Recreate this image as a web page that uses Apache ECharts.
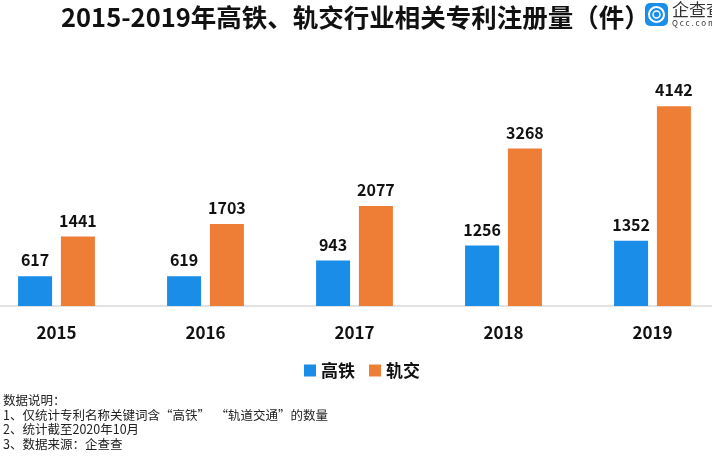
<!DOCTYPE html>
<html><head><meta charset="utf-8">
<script src="https://cdn.jsdelivr.net/npm/echarts@6/dist/echarts.min.js"></script>
<style>html,body{margin:0;padding:0;background:#fff}#c{width:712px;height:474px}</style>
</head><body><div id="c"></div>
<script>
const categories = ['2015','2016','2017','2018','2019'];
const gaotie = [617, 619, 943, 1256, 1352];
const guijiao = [1441, 1703, 2077, 3268, 4142];
const seriesNames = ['高铁','轨交'];
const titleText = '2015-2019年高铁、轨交行业相关专利注册量（件）';
const notes = ['数据说明：','1、仅统计专利名称关键词含“高铁”  “轨道交通”的数量','2、统计截至2020年10月','3、数据来源：企查查'];

const chart = echarts.init(document.getElementById('c'));
const font = '"Noto Sans CJK SC", "Noto Sans", sans-serif';
chart.setOption({
  backgroundColor: '#fff',
  animation: false,
  textStyle: {fontFamily: font},
  title: {text: titleText, left: 56, top: 0, textStyle: {fontSize: 25.5, fontWeight: 'bold', color: '#111', fontFamily: font}},
  legend: {data: seriesNames, top: 357, left: 299, icon: 'rect', itemWidth: 12, itemHeight: 12, itemGap: 14,
    textStyle: {fontSize: 17, fontWeight: 'bold', color: '#111', fontFamily: font}},
  grid: {left: -18, width: 745, top: 65, bottom: 168, outerBoundsMode: 'none', containLabel: false},
  xAxis: {type: 'category', data: categories,
    axisLine: {lineStyle: {color: '#d9d9d9', width: 1.5}}, axisTick: {show: false},
    axisLabel: {fontSize: 17, fontWeight: 'bold', color: '#111', margin: 18, fontFamily: font}},
  yAxis: {type: 'value', min: 0, max: 5000, show: false, splitLine: {show: false}},
  series: [
    {name: seriesNames[0], type: 'bar', data: gaotie, barWidth: 34, barGap: '26%',
     itemStyle: {color: '#1a8de9'},
     label: {show: true, position: 'top', distance: 8, fontSize: 16, fontWeight: 'bold', color: '#111', fontFamily: font}},
    {name: seriesNames[1], type: 'bar', data: guijiao, barWidth: 34,
     itemStyle: {color: '#ee7e36'},
     label: {show: true, position: 'top', distance: 8, fontSize: 16, fontWeight: 'bold', color: '#111', fontFamily: font}}
  ],
  graphic: [
    {type: 'rect', shape: {x: 645, y: 3, width: 23, height: 23, r: 5}, style: {fill: '#1b8ee9'}},
    {type: 'circle', shape: {cx: 656.5, cy: 14.5, r: 7.5}, style: {fill: 'none', stroke: '#fff', lineWidth: 2}},
    {type: 'circle', shape: {cx: 656.5, cy: 14.5, r: 3.5}, style: {fill: 'none', stroke: '#fff', lineWidth: 1.5}},
    {type: 'text', left: 672, top: 1, style: {text: '企查查', fontSize: 17, fill: '#333', fontFamily: font}},
    {type: 'text', left: 672, top: 19, style: {text: 'Q c c . c o m', fontSize: 8, fill: '#333', fontFamily: font}},
    {type: 'text', left: 3, top: 393, style: {text: notes.join('\n'), fontSize: 12.5, lineHeight: 14.5, fill: '#222', fontFamily: font}}
  ]
});
</script></body></html>
